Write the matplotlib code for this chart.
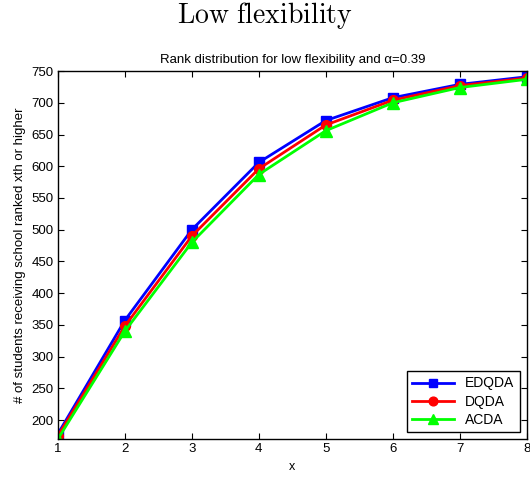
import matplotlib
matplotlib.use("Agg")
import matplotlib.pyplot as plt

plt.rcParams["mathtext.fontset"] = "cm"
plt.rcParams["font.family"] = ["Liberation Sans", "DejaVu Sans"]

x = [1, 2, 3, 4, 5, 6, 7, 8]
edqda = [178, 357, 500, 606, 672, 708, 729, 741]
dqda = [175, 348, 490, 596, 665, 704, 727, 739]
acda = [170, 340, 480, 587, 656, 700, 724, 737]
yticks = [200, 250, 300, 350, 400, 450, 500, 550, 600, 650, 700, 750]

fig = plt.figure(figsize=(5.3, 4.8), dpi=100)
ax = fig.add_axes([0.109, 0.085, 0.885, 0.767])

ax.plot(x, edqda, color="#0000ff", lw=2, marker="s", ms=7, label="EDQDA")
ax.plot(x, dqda, color="#ff0000", lw=2, marker="o", ms=7, label="DQDA")
ax.plot(x, acda, color="#00ff00", lw=2, marker="^", ms=8, label="ACDA")

ax.set_xlim(1, 8)
ax.set_ylim(170, 750)
ax.set_xticks(x)
ax.set_yticks(yticks)
ax.tick_params(direction="in", labelsize=9.5, top=True, right=True, length=4, pad=3)
ax.set_xlabel("x", fontsize=9)
ax.set_ylabel("# of students receiving school ranked xth or higher", fontsize=9.5)
ax.set_title("Rank distribution for low flexibility and \u03b1=0.39", fontsize=9.5, pad=6)
for s in ax.spines.values():
    s.set_linewidth(1)

leg = ax.legend(loc="lower right", fontsize=10, fancybox=False, edgecolor="black",
                framealpha=1, handlelength=3, borderaxespad=0.5, labelspacing=0.3,
                markerscale=0.9)
leg.get_frame().set_linewidth(1)

fig.text(0.5, 0.968, r"$\mathrm{Low\ flexibility}$", ha="center", va="center", fontsize=20)

fig.savefig("out.png", dpi=100)
